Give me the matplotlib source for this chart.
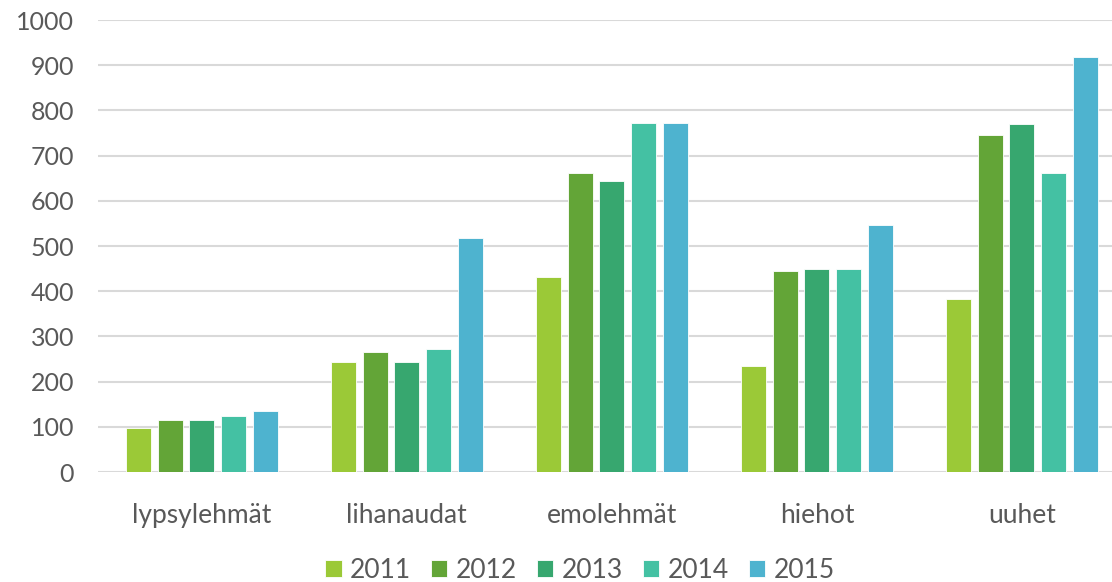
import numpy as np
import matplotlib.pyplot as plt

categories = ['lypsylehmät', 'lihanaudat', 'emolehmät', 'hiehot', 'uuhet']
years = ['2011', '2012', '2013', '2014', '2015']
values = {
    '2011': [97, 243, 431, 235, 383],
    '2012': [115, 265, 661, 445, 746],
    '2013': [115, 243, 644, 449, 770],
    '2014': [124, 272, 772, 449, 661],
    '2015': [135, 518, 772, 546, 918],
}
colors = ['#9BC937', '#63A537', '#37A76F', '#44C1A3', '#4EB3CF']

plt.rcParams['font.family'] = ['Lato', 'DejaVu Sans']
txt = '#595959'

fig = plt.figure(figsize=(11.12, 5.82), dpi=100)
ax = fig.add_axes([0.088, 0.189, 0.912, 0.7766])

x = np.arange(len(categories))
pitch = 0.155
width = 0.122
for i, yr in enumerate(years):
    ax.bar(x + (i - 2) * pitch, values[yr], width, color=colors[i],
           edgecolor='white', linewidth=0.6, label=yr, zorder=3)

ax.set_xlim(-0.507, 4.439)
ax.set_ylim(0, 1000)
ax.set_yticks(range(0, 1001, 100))
ax.set_xticks(x)
ax.set_xticklabels(categories)
ax.grid(axis='y', color='#D9D9D9', linewidth=1.5, zorder=0)
for s in ax.spines.values():
    s.set_visible(False)
ax.tick_params(axis='both', length=0, labelsize=18, labelcolor=txt)
ax.tick_params(axis='x', labelsize=19, pad=22)
ax.tick_params(axis='y', pad=17)

fig.legend(loc='center', bbox_to_anchor=(580 / 1112, 1 - 570 / 582), ncol=5, frameon=False,
           fontsize=19, labelcolor=txt, handlelength=0.62, handleheight=0.62,
           handletextpad=0.32, columnspacing=0.75, borderpad=0)

fig.savefig('out.png', dpi=100)
